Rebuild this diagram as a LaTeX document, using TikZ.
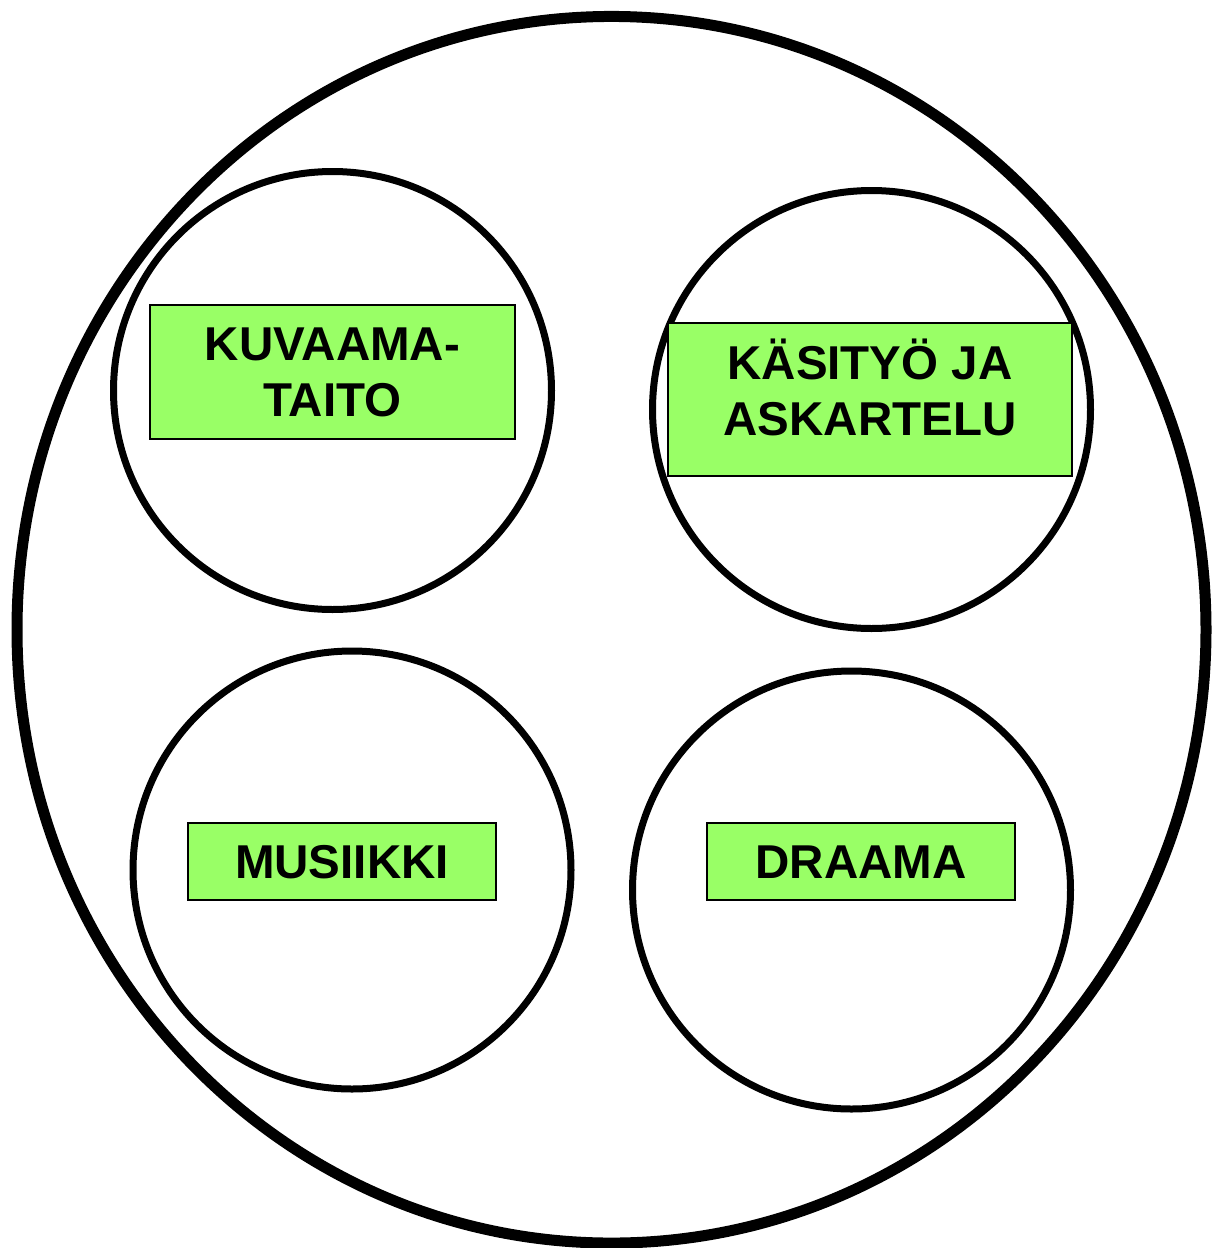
\documentclass[tikz,border=0pt]{standalone}
\usepackage{fontspec}
\setmainfont{Liberation Sans}
\usetikzlibrary{shapes.geometric}
\definecolor{boxgreen}{HTML}{99FF66}
\tikzset{
  outerring/.style={draw, ellipse, line width=5.5pt, inner sep=0pt, minimum width=594.5pt, minimum height=613.3pt},
  area/.style={draw, circle, line width=3.5pt, inner sep=0pt, minimum size=219pt},
  greenbox/.style={draw, fill=boxgreen, line width=1pt, inner sep=0pt},
  lbl/.style={font=\fontsize{23.75pt}{28pt}\selectfont\bfseries, align=center, inner sep=0pt}
}
\begin{document}
\begin{tikzpicture}[x=0.5pt, y=-0.5pt]
\useasboundingbox (0,0) rectangle (1213,1248);
\node[outerring] (outer) at (611.5,629.75) {};
\node[area] (c1) at (332.5,390.5) {};
\node[area] (c2) at (871.5,409.5) {};
\node[area] (c3) at (352,870) {};
\node[area] (c4) at (851.5,890) {};
\node[greenbox, minimum width=182.5pt, minimum height=67pt] (b1) at (332.5,372) {};
\node[greenbox, minimum width=202pt, minimum height=76.5pt] (b2) at (870,399.5) {};
\node[greenbox, minimum width=154pt, minimum height=38.5pt] (b3) at (342,861.5) {};
\node[greenbox, minimum width=154pt, minimum height=38.5pt] (b4) at (861,861.5) {};
\node[lbl] (t1) at (332.5,372) {KUVAAMA-\\TAITO};
\node[lbl] (t2) at (870,387) {KÄSITYÖ JA\\ASKARTELU};
\node[lbl] (t3) at (342,862.5) {MUSIIKKI};
\node[lbl] (t4) at (861,862.5) {DRAAMA};
\end{tikzpicture}
\end{document}
